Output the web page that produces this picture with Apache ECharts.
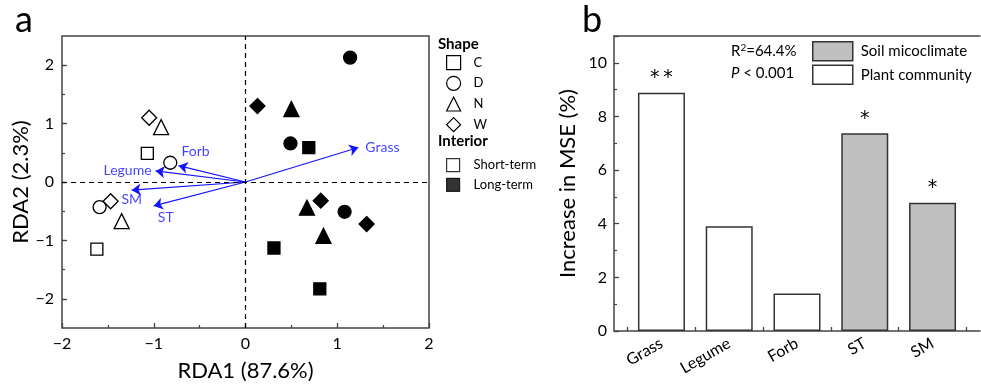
<!DOCTYPE html>
<html>
<head>
<meta charset="utf-8">
<script src="https://cdn.jsdelivr.net/npm/echarts@6/dist/echarts.min.js"></script>
<style>html,body{margin:0;padding:0;background:#fff}#c{width:981px;height:387px}</style>
</head>
<body>
<div id="c"></div>
<script>
// ---------- Panel a: RDA ----------
const siteNames = ['C', 'D', 'N', 'W'];
const siteSymbols = ['rect', 'circle', 'triangle', 'diamond'];
const shortTerm = {
  C: [[-1.07, 0.49], [-1.62, -1.15]],
  D: [[-0.82, 0.33], [-1.59, -0.43]],
  N: [[-0.92, 0.94], [-1.35, -0.67]],
  W: [[-1.05, 1.10], [-1.47, -0.33]]
};
const longTerm = {
  C: [[0.69, 0.59], [0.31, -1.13], [0.81, -1.83]],
  D: [[1.14, 2.13], [0.49, 0.66], [1.08, -0.51]],
  N: [[0.50, 1.25], [0.67, -0.44], [0.85, -0.92]],
  W: [[0.13, 1.30], [0.82, -0.32], [1.32, -0.72]]
};
const interiorNames = ['Short-term', 'Long-term'];
const arrowNames = ['Grass', 'Forb', 'Legume', 'SM', 'ST'];
const arrowTips = [[1.23, 0.59], [-0.73, 0.28], [-0.98, 0.19], [-1.24, -0.14], [-1.00, -0.41]];
const rdaXTicks = [-2, -1, 0, 1, 2];
const rdaYTicks = [-2, -1, 0, 1, 2];
const rdaYMinorTicks = [-2, -1.5, -1, -0.5, 0, 0.5, 1, 1.5, 2];
const rdaXTitle = 'RDA1 (87.6%)';
const rdaYTitle = 'RDA2 (2.3%)';

// ---------- Panel b: bars ----------
const barCategories = ['Grass', 'Legume', 'Forb', 'ST', 'SM'];
const barValues = [8.88, 3.91, 1.40, 7.37, 4.78];
const barGroups = ['Plant community', 'Plant community', 'Plant community', 'Soil micoclimate', 'Soil micoclimate'];
const barSignif = ['*\u2009*', '', '', '*', '*'];
const groupOrder = ['Soil micoclimate', 'Plant community'];
const barYTitle = 'Increase in MSE (%)';

const FONT = 'Lato, "Open Sans", sans-serif';
const AX = '#444';
const BLUE = '#1414ff';

const labelStyle = {
  Grass: {position: 'right', distance: 7, offset: [0, 0]},
  Forb: {position: 'right', distance: 3, offset: [0, -14]},
  Legume: {position: 'left', distance: 4, offset: [0, 0]},
  SM: {position: 'bottom', distance: 2, offset: [0, 0]},
  ST: {position: 'bottom', distance: 5, offset: [12, 0]}
};

const chart = echarts.init(document.getElementById('c'), null, {renderer: 'canvas'});

const siteSeries = siteNames.map((s, i) => ({
  name: s,
  type: 'scatter',
  xAxisIndex: 0, yAxisIndex: 0,
  symbol: siteSymbols[i],
  symbolSize: [12, 13, 15, 15][i],
  z: 5,
  itemStyle: {color: '#fff', borderColor: '#000', borderWidth: 1.3, opacity: 1},
  data: shortTerm[s].map(p => ({value: p}))
    .concat(longTerm[s].map(p => ({value: p, itemStyle: {color: '#000'}})))
}));

const interiorSeries = interiorNames.map((n, i) => ({
  name: n,
  type: 'scatter',
  xAxisIndex: 0, yAxisIndex: 0,
  symbol: 'rect',
  itemStyle: {color: i === 0 ? '#fff' : '#000', borderColor: '#000', borderWidth: 1.3},
  data: []
}));

const arrowSeries = {
  type: 'lines',
  coordinateSystem: 'cartesian2d',
  xAxisIndex: 0, yAxisIndex: 0,
  symbol: ['none', 'arrow'],
  symbolSize: 9,
  z: 3,
  lineStyle: {color: BLUE, width: 1.2, opacity: 1},
  data: arrowTips.map(t => ({coords: [[0, 0], t]})),
  markLine: {
    silent: true,
    symbol: 'none',
    label: {show: false},
    lineStyle: {color: '#000', type: [5, 4], width: 1.2},
    data: [{xAxis: 0}, {yAxis: 0}]
  }
};

const arrowLabelSeries = {
  type: 'scatter',
  xAxisIndex: 0, yAxisIndex: 0,
  symbolSize: 0,
  z: 4,
  silent: true,
  data: arrowTips.map((t, i) => ({
    value: t,
    name: arrowNames[i],
    label: Object.assign({show: true, formatter: arrowNames[i], color: BLUE, fontSize: 14, fontFamily: FONT},
      labelStyle[arrowNames[i]])
  }))
};

const barSeries = groupOrder.map(g => ({
  name: g,
  type: 'bar',
  xAxisIndex: 2, yAxisIndex: 2,
  barWidth: 47,
  barGap: '-100%',
  itemStyle: {color: g === 'Soil micoclimate' ? '#c0c0c0' : '#ffffff', borderColor: '#333', borderWidth: 1.5},
  label: {
    show: true, position: 'top', distance: 5,
    fontSize: 19, fontFamily: '"DejaVu Sans", sans-serif', color: '#000',
    formatter: p => barSignif[p.value[0] - 1]
  },
  data: barValues.map((v, i) => barGroups[i] === g ? [i + 1, v] : null).filter(d => d)
}));

const smallLegendText = {fontSize: 13, color: '#000', fontFamily: FONT, lineHeight: 14};

const option = {
  backgroundColor: '#fff',
  animation: false,
  textStyle: {fontFamily: FONT},
  grid: [
    {left: 62, top: 36, width: 367, height: 294, show: true, borderColor: AX, borderWidth: 1.5, backgroundColor: 'transparent'},
    {left: 614, top: 36, width: 366, height: 295}
  ],
  xAxis: [
    {
      gridIndex: 0, type: 'value', min: -2, max: 2, interval: 1, position: 'bottom',
      name: rdaXTitle, nameLocation: 'middle', nameGap: 32,
      nameTextStyle: {fontSize: 22, color: '#000', fontFamily: FONT},
      axisLine: {show: false, onZero: false},
      axisTick: {show: true, inside: true, length: 5, lineStyle: {color: AX, width: 1.3}},
      minorTick: {show: true, splitNumber: 2, length: 3, lineStyle: {color: AX, width: 1.2}},
      axisLabel: {fontSize: 16, color: '#000', margin: 8, fontFamily: FONT,
        formatter: v => (v < 0 ? '\u2212' + Math.abs(v) : String(v))},
      splitLine: {show: false}
    },
    {
      gridIndex: 0, type: 'value', min: -2, max: 2, position: 'top', show: false,
      axisLine: {onZero: false}
    },
    {
      gridIndex: 1, type: 'value', min: 0.3, max: 5.7, position: 'bottom',
      axisLine: {show: true, onZero: false, lineStyle: {color: AX, width: 1.5}},
      axisTick: {show: true, inside: true, length: 4, customValues: [0.5, 1.5, 2.5, 3.5, 4.5, 5.5], lineStyle: {color: AX, width: 1.3}},
      axisLabel: {fontSize: 16, color: '#000', rotate: 30, margin: 11, fontFamily: FONT,
        customValues: [1, 2, 3, 4, 5], formatter: v => barCategories[Math.round(v) - 1] || ''},
      splitLine: {show: false}
    },
    {
      gridIndex: 1, type: 'value', min: 0.3, max: 5.7, position: 'top',
      axisLine: {show: true, onZero: false, lineStyle: {color: AX, width: 1.5}},
      axisTick: {show: false}, axisLabel: {show: false}, splitLine: {show: false}
    }
  ],
  yAxis: [
    {
      gridIndex: 0, type: 'value', min: -2.5, max: 2.5, position: 'left',
      name: rdaYTitle, nameLocation: 'middle', nameGap: 27,
      nameTextStyle: {fontSize: 22, color: '#000', fontFamily: FONT},
      axisLine: {show: false, onZero: false},
      axisTick: {show: true, inside: true, length: 5, customValues: rdaYTicks, lineStyle: {color: AX, width: 1.3}},
      axisLabel: {fontSize: 16, color: '#000', margin: 8, fontFamily: FONT, customValues: rdaYTicks,
        formatter: v => (v < 0 ? '\u2212' + Math.abs(v) : String(v))},
      splitLine: {show: false}
    },
    {
      gridIndex: 0, type: 'value', min: -2.5, max: 2.5, position: 'left', offset: 0,
      axisLine: {show: false, onZero: false},
      axisTick: {show: true, inside: true, length: 3, customValues: rdaYMinorTicks, lineStyle: {color: AX, width: 1.2}},
      axisLabel: {show: false}, splitLine: {show: false}
    },
    {
      gridIndex: 1, type: 'value', min: 0, max: 11, interval: 2, position: 'left',
      name: barYTitle, nameLocation: 'middle', nameGap: 35,
      nameTextStyle: {fontSize: 22, color: '#000', fontFamily: FONT},
      axisLine: {show: true, onZero: false, lineStyle: {color: AX, width: 1.5}},
      axisTick: {show: true, inside: true, length: 5, lineStyle: {color: AX, width: 1.3}},
      minorTick: {show: true, splitNumber: 2, length: 3, lineStyle: {color: AX, width: 1.2}},
      axisLabel: {fontSize: 16, color: '#000', margin: 7, fontFamily: FONT, showMaxLabel: false},
      splitLine: {show: false}
    }
  ],
  legend: [
    {
      data: siteNames, orient: 'vertical', left: 446, top: 55, padding: 0,
      itemWidth: 14, itemHeight: 14, itemGap: 5.5,
      itemStyle: {borderWidth: 1.2, borderColor: '#000', color: '#fff'},
      textStyle: Object.assign({padding: [0, 0, 0, 8]}, smallLegendText),
      selectedMode: false
    },
    {
      data: interiorNames, orient: 'vertical', left: 446, top: 158, padding: 0,
      itemWidth: 13, itemHeight: 13, itemGap: 5.5,
      itemStyle: {borderWidth: 1.2, borderColor: '#000'},
      textStyle: Object.assign({padding: [0, 0, 0, 9]}, smallLegendText),
      selectedMode: false
    },
    {
      data: groupOrder, orient: 'vertical', left: 812, top: 41, padding: 0,
      icon: 'rect',
      itemWidth: 40, itemHeight: 19, itemGap: 3,
      itemStyle: {borderWidth: 1.5, borderColor: '#333'},
      textStyle: {fontSize: 15, color: '#000', fontFamily: FONT, padding: [0, 0, 0, 3]},
      selectedMode: false
    }
  ],
  graphic: [
    {type: 'text', left: 15, top: 2, style: {text: 'a', fontSize: 36, fontFamily: FONT, fill: '#000'}},
    {type: 'text', left: 582, top: 2, style: {text: 'b', fontSize: 36, fontFamily: FONT, fill: '#000'}},
    {type: 'text', left: 438, top: 37, style: {text: 'Shape', fontSize: 15, fontWeight: 'bold', fontFamily: FONT, fill: '#000'}},
    {type: 'text', left: 438, top: 134, style: {text: 'Interior', fontSize: 15, fontWeight: 'bold', fontFamily: FONT, fill: '#000'}},
    {type: 'text', left: 731, top: 43, style: {
      text: 'R{sup|2}=64.4%', fontSize: 15, fontFamily: FONT, fill: '#000',
      rich: {sup: {fontSize: 10, verticalAlign: 'top', fontFamily: FONT, fill: '#000', padding: [0, 0, 6, 0]}}}},
    {type: 'text', left: 731, top: 66, style: {
      text: '{i|P} < 0.001', fontSize: 15, fontFamily: FONT, fill: '#000',
      rich: {i: {fontStyle: 'italic', fontSize: 15, fontFamily: FONT, fill: '#000'}}}}
  ],
  series: [arrowSeries, arrowLabelSeries].concat(siteSeries, interiorSeries, barSeries)
};

chart.setOption(option);
</script>
</body>
</html>
